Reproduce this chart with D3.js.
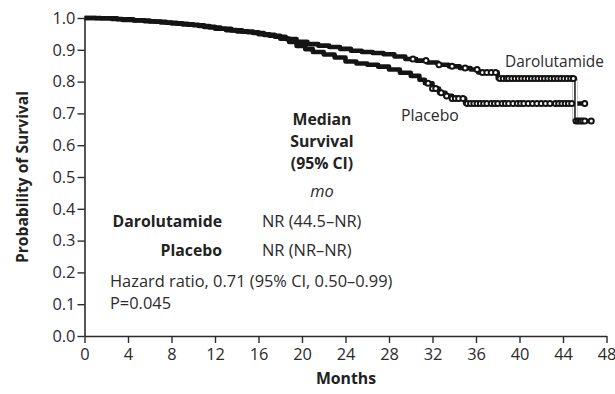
<!DOCTYPE html>
<html>
<head>
<meta charset="utf-8">
<script src="https://cdn.jsdelivr.net/npm/d3@7"></script>
<style>
  html, body { margin: 0; padding: 0; background: #fff; }
  svg { display: block; font-family: "Open Sans", "Noto Sans", sans-serif; }
</style>
</head>
<body>
<svg id="chart" width="615" height="394"></svg>
<script>
// Kaplan–Meier steps: [month, survival probability]
const darolutamideSteps = [
  [0, 1.000], [1.5, 0.999], [3.0, 0.996], [4.5, 0.993], [5.5, 0.990], [6.5, 0.988],
  [7.5, 0.985], [8.5, 0.982], [9.5, 0.979], [10.5, 0.975], [11.5, 0.970], [12.5, 0.966],
  [13.5, 0.961], [14.5, 0.957], [15.5, 0.953], [16.5, 0.947], [17.5, 0.941], [18.5, 0.934],
  [19.5, 0.925], [20.5, 0.918], [21.5, 0.913], [22.5, 0.909], [23.5, 0.903], [24.5, 0.897],
  [25.5, 0.893], [26.5, 0.890], [27.5, 0.886], [28.5, 0.879], [29.5, 0.871], [30.5, 0.866],
  [31.5, 0.860], [32.5, 0.853], [33.5, 0.848], [34.5, 0.843], [35.5, 0.838], [36.2, 0.829],
  [38.0, 0.810], [45.1, 0.676]
];
const darolutamideEnd = 46.6;
const darolutamideCensored = [
  30.2, 31.4, 32.6, 33.8, 35.0, 36.1, 36.6, 37.0, 37.4, 37.8,
  38.2, 38.5, 38.8, 39.0, 39.3, 39.6, 39.9, 40.2, 40.5, 40.8, 41.1, 41.4, 41.7, 42.0,
  42.3, 42.6, 42.9, 43.2, 43.5, 43.8, 44.1, 44.4, 44.7, 44.95,
  45.2, 45.4, 45.6, 45.8, 46.0, 46.6
];

const placeboSteps = [
  [0, 1.000], [1.0, 0.999], [2.5, 0.997], [3.5, 0.994], [4.5, 0.992], [6.0, 0.989],
  [7.0, 0.986], [8.0, 0.983], [9.0, 0.980], [10.0, 0.977], [11.0, 0.972], [12.0, 0.966],
  [13.0, 0.962], [14.0, 0.958], [15.0, 0.955], [16.0, 0.949], [17.0, 0.944], [18.0, 0.935],
  [18.8, 0.925], [19.5, 0.912], [20.3, 0.902], [21.0, 0.893], [22.0, 0.885], [23.0, 0.876],
  [24.0, 0.863], [25.0, 0.857], [26.0, 0.853], [27.0, 0.847], [28.0, 0.838], [29.0, 0.828],
  [30.0, 0.818], [30.8, 0.806], [31.3, 0.795], [32.0, 0.778], [32.6, 0.765], [33.2, 0.755],
  [33.8, 0.747], [35.0, 0.731]
];
const placeboEnd = 46.0;
const placeboCensored = [
  31.6, 32.0, 32.3, 32.8, 33.3, 33.8, 34.1, 34.4, 34.8,
  35.2, 35.5, 35.8, 36.1, 36.4, 36.7, 37.0, 37.4, 37.7, 38.0, 38.4, 38.7, 39.0, 39.4,
  39.8, 40.1, 40.4, 40.8, 41.2, 41.6, 42.0, 42.4, 42.8, 43.3, 43.6, 43.9, 44.2, 44.5,
  44.8, 46.0
];

const xTicks = d3.range(0, 49, 4);
const yTicks = d3.range(0, 11).map(d => d / 10);

const medianRows = [
  { arm: "Darolutamide", value: "NR (44.5–NR)" },
  { arm: "Placebo", value: "NR (NR–NR)" }
];
const hazardLines = ["Hazard ratio, 0.71 (95% CI, 0.50–0.99)", "P=0.045"];

const svg = d3.select("#chart");
const ink = "#2b2b2b";
const curveInk = "#141414";
const regular = "16.4px";
const bold = "15.8px";
const x = d3.scaleLinear().domain([0, 48]).range([84.5, 606.5]);
const y = d3.scaleLinear().domain([0, 1]).range([336, 18]);

// axes
const yAxis = svg.append("g").attr("transform", `translate(${x(0)},0)`)
  .call(d3.axisLeft(y).tickValues(yTicks).tickFormat(d3.format(".1f")).tickSize(7).tickPadding(2).tickSizeOuter(0));
const xAxis = svg.append("g").attr("transform", `translate(0,${y(0)})`)
  .call(d3.axisBottom(x).tickValues(xTicks).tickSize(7).tickPadding(5).tickSizeOuter(0));
[yAxis, xAxis].forEach(g => {
  g.select(".domain").attr("stroke", ink).attr("stroke-width", 1.6);
  g.selectAll(".tick line").attr("stroke", ink).attr("stroke-width", 1.4);
  g.selectAll(".tick text").attr("fill", ink).style("font-size", regular).style("font-family", "'Open Sans'");
});

// survival curves
function stepValue(steps, t) {
  let v = steps[0][1];
  for (const s of steps) { if (s[0] <= t) v = s[1]; }
  return v;
}
const line = d3.line().x(d => x(d[0])).y(d => y(d[1])).curve(d3.curveStepAfter);
const arms = [
  { steps: darolutamideSteps, end: darolutamideEnd, censored: darolutamideCensored },
  { steps: placeboSteps, end: placeboEnd, censored: placeboCensored }
];
arms.forEach(a => {
  const pts = a.steps.concat([[a.end, a.steps[a.steps.length - 1][1]]]);
  svg.append("path").attr("d", line(pts)).attr("fill", "none")
    .attr("stroke", curveInk).attr("stroke-width", 4.6).attr("stroke-linejoin", "round");
});
// the long vertical drop of the darolutamide curve is drawn thin
const drop = darolutamideSteps[darolutamideSteps.length - 1];
const beforeDrop = darolutamideSteps[darolutamideSteps.length - 2];
[["#fff", 4.6], [curveInk, 1.5]].forEach(([c, w]) => {
  svg.append("line")
    .attr("x1", x(drop[0])).attr("x2", x(drop[0]))
    .attr("y1", y(beforeDrop[1]) + 2).attr("y2", y(drop[1]) - 2)
    .attr("stroke", c).attr("stroke-width", w);
});
arms.forEach(a => {
  svg.append("g").selectAll("circle").data(a.censored).join("circle")
    .attr("cx", d => x(d)).attr("cy", d => y(stepValue(a.steps, d)))
    .attr("r", 2.5).attr("fill", "#fff").attr("stroke", curveInk).attr("stroke-width", 2);
});

// curve labels
svg.append("text").attr("x", 505).attr("y", 67).text("Darolutamide")
  .attr("fill", ink).style("font-size", "15.4px");
svg.append("text").attr("x", 401).attr("y", 121).text("Placebo")
  .attr("fill", ink).style("font-size", "15.8px");

// median survival table
const head = svg.append("text").attr("text-anchor", "middle").attr("fill", "#222")
  .style("font-size", bold).style("font-weight", "bold");
["Median", "Survival", "(95% CI)"].forEach((t, i) =>
  head.append("tspan").attr("x", 322).attr("y", 125 + i * 22).text(t));
svg.append("text").attr("x", 322).attr("y", 197).attr("text-anchor", "middle")
  .attr("fill", ink).style("font-size", regular).style("font-style", "italic").text("mo");
medianRows.forEach((r, i) => {
  svg.append("text").attr("x", 222).attr("y", 227 + i * 29).attr("text-anchor", "end")
    .attr("fill", "#222").style("font-size", bold).style("font-weight", "bold").text(r.arm);
  svg.append("text").attr("x", 262).attr("y", 227 + i * 29)
    .attr("fill", ink).style("font-size", regular).text(r.value);
});
hazardLines.forEach((t, i) => {
  svg.append("text").attr("x", 110).attr("y", 287 + i * 22)
    .attr("fill", ink).style("font-size", regular).text(t);
});

// axis titles
svg.append("text").attr("x", 346).attr("y", 384).attr("text-anchor", "middle")
  .attr("fill", "#222").style("font-size", bold).style("font-weight", "bold").text("Months");
svg.append("text").attr("transform", `translate(28,177) rotate(-90)`).attr("text-anchor", "middle")
  .attr("fill", "#222").style("font-size", "15.6px").style("font-weight", "bold").text("Probability of Survival");
</script>
</body>
</html>
